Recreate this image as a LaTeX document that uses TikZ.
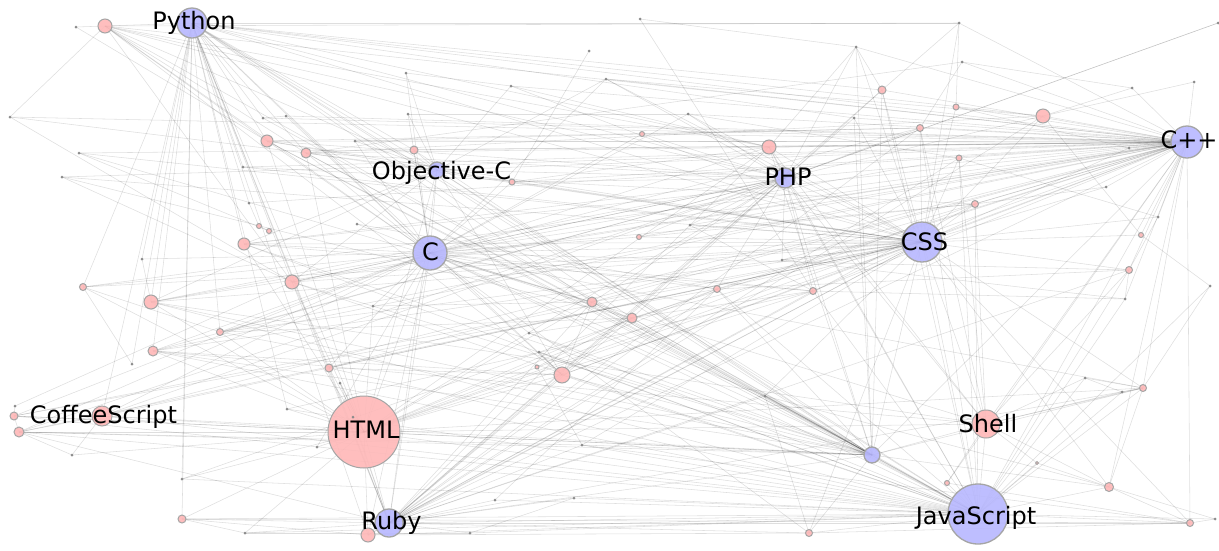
\documentclass[tikz,border=0pt]{standalone}
\usepackage{fontspec}
\setmainfont{DejaVu Sans}
\definecolor{hubblue}{RGB}{184,184,255}
\definecolor{lpink}{RGB}{255,184,184}
\definecolor{ring}{RGB}{165,165,165}
\pgfdeclarelayer{bg}
\pgfsetlayers{bg,main}
\tikzset{
 edge/.style={draw=black, draw opacity=0.13, line width=0.55pt},
 bnode/.style={circle, fill=hubblue, fill opacity=0.9, draw=ring, line width=1.3pt, inner sep=0pt, outer sep=0pt},
 pnode/.style={circle, fill=lpink, fill opacity=0.9, draw=ring, line width=1pt, inner sep=0pt, outer sep=0pt},
 gnode/.style={circle, fill=black!45, draw=none, minimum size=3pt, inner sep=0pt, outer sep=0pt},
 lab/.style={font=\fontsize{24}{28}\selectfont, text=black, inner sep=0pt, anchor=base},
}
\begin{document}
\begin{tikzpicture}[x=1pt,y=-1pt]
\useasboundingbox (0,0) rectangle (1219,550);
% hubs
\foreach \n/\x/\y/\r in {py/192/23/15, oc/437/170/8, c/430/253/17, php/785/178/10, css/922/242/20, cpp/1187/142/16, ruby/389/523/14, js/978/514/30, b9/872/455/8}
  \node[bnode, minimum size=\r*2pt] (\n) at (\x,\y) {};
% pink nodes
\foreach \n/\x/\y/\r in {p1/105/26/7, p2/267/141/6, p3/306/153/5, p4/414/150/4, p5/244/244/6, p6/151/302/7, p7/292/282/7, p8/83/287/3.5, p9/220/332/3.5, p10/153/351/5, p11/329/368/4, p12/14/416/4, p13/19/432/5, p14/102/416/10, p15/182/519/4, p16/368/535/7, p17/562/375/8, p18/592/302/5, p19/632/318/5, p20/717/289/3.5, p21/813/291/3.5, p22/769/147/7, p23/882/90/4, p24/920/128/3.5, p25/956/107/3, p26/1043/116/7, p27/959/158/3, p28/975/204/3.5, p29/1141/235/2.5, p30/1129/270/3.5, p31/1143/388/3.5, p32/1109/487/4.5, p33/1190/523/3.5, p34/809/533/3.5, p35/642/134/2.5, p36/512/182/3, p37/259/226/2.5, p38/269/231/2.5, p39/639/237/2.5, html/364/432/36, shell/986/424/14, p42/947/483/2.5, p43/1037/463/1.5, p44/537/367/2}
  \node[pnode, minimum size=\r*2pt] (\n) at (\x,\y) {};
% grey dots
\foreach \n/\x/\y in {g1/76/27, g2/263/118, g3/79/153, g4/62/177, g5/10/117, g6/243/167, g7/406/73, g8/511/86, g9/606/79, g10/589/51, g11/688/114, g12/856/47, g13/854/118, g14/959/23, g15/962/62, g16/1129/148, g17/1132/88, g18/1158/217, g19/1125/299, g20/1210/286, g21/1106/187, g22/1122/392, g23/1085/378, g24/1215/519, g25/765/396, g26/582/445, g27/470/533, g28/495/500, g29/287/409, g30/182/479, g31/15/406, g32/72/455, g33/245/533, g34/317/447, g35/249/203, g36/142/259, g37/132/364, g38/357/224, g39/373/306, g40/529/333, g41/539/352, g42/690/225, g43/782/260, g44/353/417, g45/340/383, g46/408/114, g47/355/141, g48/286/116, g49/640/19, g50/1194/82, g51/1218/23, g52/574/498}
  \node[gnode] (\n) at (\x,\y) {};
% labels
\node[lab] (lpy) at (194,29.5) {Python};
\node[lab] (loc) at (441.5,179) {Objective-C};
\node[lab] (lc) at (430.5,260) {C};
\node[lab] (lphp) at (788,185) {PHP};
\node[lab] (lcss) at (924.5,250) {CSS};
\node[lab] (lcpp) at (1189,148) {C++};
\node[lab] (lruby) at (391.5,529.5) {Ruby};
\node[lab] (lhtml) at (366,438.5) {HTML};
\node[lab] (lshell) at (988,432) {Shell};
\node[lab] (ljs) at (976,524) {JavaScript};
\node[lab] (lcs) at (103.5,423) {CoffeeScript};
\begin{pgfonlayer}{bg}
\fill[white] (0,0) rectangle (1219,550);
\foreach \t in {p1,p2,p3,p4,oc,c,php,css,cpp,b9,js,html,ruby,p5,p6,p7,p8,p9,p10,p11,p14,p15,p17,p18,p22,p23,p26,g2,g6,g35,g36,g37,g14,p16,g29,g30,p19,g13}
  \draw[edge] (py.center) -- (\t.center);
\foreach \t in {g1,p3,p2,p7,css,php,c,oc,p17,b9,g5,cpp,p22}
  \draw[edge] (p1.center) -- (\t.center);
\foreach \t in {oc,p4,p2,p3,p5,p6,p7,p8,p9,p10,p11,p14,p13,p17,p18,p19,p20,p21,p22,php,css,cpp,js,b9,ruby,html,p16,g38,g39,g40,g7,g46,g47,g48,p36,p35,g9,g11,p39,p24,p27,p28,shell,p31,p30,g25,p34,p12,g36,g34}
  \draw[edge] (c.center) -- (\t.center);
\foreach \t in {cpp,php,js,b9,oc,ruby,html,p2,p3,p5,p6,p7,p9,p10,p14,p13,p12,p17,p18,p19,p20,p21,p22,p23,p24,p25,p26,p27,p28,p29,p30,p31,p32,p33,shell,g8,g9,g11,g12,g13,g14,g16,g18,g21,p36,p39,g42,g43,p16,g26,g25,p34,g4,g6,p11,p8,g3}
  \draw[edge] (css.center) -- (\t.center);
\foreach \t in {oc,php,js,b9,shell,ruby,html,p2,p3,p4,p5,p6,p7,p8,p10,p17,p18,p19,p20,p21,p22,p23,p24,p25,p26,p27,p28,p29,p30,p31,p32,p33,p36,p35,p39,g16,g17,g18,g19,g21,g50,g13,g15,g12,g11,g42,g43,g3,g4,g5,g9,g8,g14,p42,g2,g6,g35,g47,g48,p9,p11,p14}
  \draw[edge] (cpp.center) -- (\t.center);
\foreach \t in {php,b9,shell,oc,ruby,html,p13,p14,p12,p15,p16,p17,p18,p19,p20,p21,p22,p23,p24,p27,p28,p30,p31,p32,p33,p34,p42,p43,g22,g23,g24,g25,g26,g27,g28,g52,p6,p7,p10,p11,g29,g30,g33,g19,g20,p2,p3,p5,g40,g41}
  \draw[edge] (js.center) -- (\t.center);
\foreach \t in {html,oc,php,b9,p16,p17,p18,p19,p20,p21,p22,p23,p26,p27,p28,p30,g27,g28,g52,g25,p11,p7,p33,p34,g26,p31,g44,g45,p24,p13,g33,p15}
  \draw[edge] (ruby.center) -- (\t.center);
\foreach \t in {oc,php,b9,p7,p5,p6,p9,p10,p11,p12,p13,p14,p15,p16,p17,p18,p19,p20,p21,p22,p28,p31,g29,g30,g34,g44,g45,g32,g33,p8,shell,p3,p2,g39}
  \draw[edge] (html.center) -- (\t.center);
\foreach \t in {oc,b9,p17,p22,p23,p24,p35,p36,p39,g11,g12,g13,g9,p20,p21,p2,p3,p5,p7,p6,p18,p19,g42,g43,p14,p13,shell,p26,g51,p10,p9}
  \draw[edge] (php.center) -- (\t.center);
\foreach \t in {p2,p3,oc,p17,p12,p13,p14,g25,p34,p20,p22,p23,g12,g13,p5,p6,p7,p10,p18,p19,shell,p32,g26,g40,g41,p9,g2,p4,p31}
  \draw[edge] (b9.center) -- (\t.center);
\foreach \t in {p4,p36,g7,g46,p2,p3,p5,p7,g8,g9,p17,p6,g47}
  \draw[edge] (oc.center) -- (\t.center);
\foreach \t in {p31,p32,p30,p28,g22,g23,p42,p43,p22,p24,p27,p10,p6}
  \draw[edge] (shell.center) -- (\t.center);
\foreach \a/\b in {p14/p13, p13/p12, p12/g31, p14/g32, p15/p16, p15/g33, p17/p18, p34/g25, p33/g24, p32/p31, p31/g22, g12/p22, g12/p23, g14/p23, g14/p1, g14/p25, g49/g12, g49/p21, g10/p36, g15/p3, g2/g48, p13/g32, p6/g36, p8/p9, p8/g37, g31/p7, p12/p20, p13/g26, g5/p7, g4/p7, g3/p38, p37/p38, p37/g35, p9/p19, p10/p17, p11/p17, g29/p21, g30/p20, p15/p33, g33/g27, g27/g52, p16/p34, g28/p20, p17/g41, g40/p21, g39/p18, g38/p20, p5/p21, p2/p24, p3/p26, g6/p28, g47/p35, g46/g11, g7/g8, g8/p22, g9/p26, g11/p27, p35/p24, p36/p22, p39/p28, g42/p21, g43/g19, p20/p30, p21/g19, p25/g16, p24/g15, p26/g17, p27/g18, p28/g21, p29/g20, p30/g19, p31/g23, p32/g24, p33/p32, g23/g22, g20/p31, g18/p30, p26/p29, p42/p33, p43/p32, p34/p33, g25/p32, g26/p33, g17/g15, g51/php, g50/p26, p44/p19, p44/g26, g1/p2, g5/p3, g3/p18, g4/p19}
  \draw[edge] (\a.center) -- (\b.center);
\end{pgfonlayer}
\end{tikzpicture}
\end{document}
